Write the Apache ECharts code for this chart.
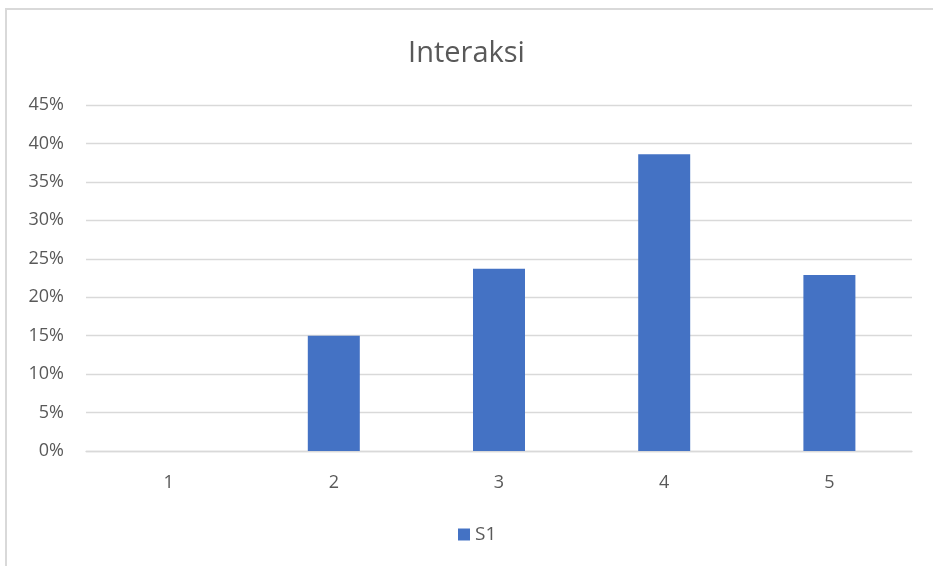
<!DOCTYPE html>
<html>
<head>
<meta charset="utf-8">
<script src="https://cdn.jsdelivr.net/npm/echarts@6/dist/echarts.min.js"></script>
<style>
  html, body { margin: 0; padding: 0; background: #ffffff; }
  #chart { position: absolute; left: 0; top: 0; width: 933px; height: 566px; }
  #frame {
    position: absolute; left: 5px; top: 8px; width: 1000px; height: 700px;
    border-left: 2px solid #d9d9d9; border-top: 2px solid #d9d9d9;
    pointer-events: none;
  }
</style>
</head>
<body>
<div id="chart"></div>
<div id="frame"></div>
<script>
// Interaction score categories and share of responses (percent)
const categories = ['1', '2', '3', '4', '5'];
const seriesName = 'S1';
const shares = [0, 15.0, 23.7, 38.6, 22.9];
const titleText = 'Interaksi';

const textColor = '#595959';
const gridColor = '#d9d9d9';
const barColor = '#4472C4';
const fontFamily = '"Open Sans", "Noto Sans", sans-serif';

const chart = echarts.init(document.getElementById('chart'), null, { renderer: 'canvas' });

chart.setOption({
  animation: false,
  backgroundColor: '#ffffff',
  title: {
    text: titleText,
    left: 'center',
    top: 34,
    textStyle: { color: textColor, fontSize: 29, fontWeight: 'normal', fontFamily: fontFamily }
  },
  legend: {
    data: [seriesName],
    top: 520,
    left: 453,
    icon: 'rect',
    itemWidth: 12,
    itemHeight: 12,
    itemGap: 10,
    textStyle: { color: textColor, fontSize: 19, fontFamily: fontFamily }
  },
  grid: { left: 86, right: 21, top: 105, bottom: 115, containLabel: false },
  xAxis: {
    type: 'category',
    data: categories,
    axisLine: { show: true, lineStyle: { color: gridColor, width: 1.3 } },
    axisTick: { show: false },
    axisLabel: { color: textColor, fontSize: 18, fontFamily: fontFamily, margin: 23 }
  },
  yAxis: {
    type: 'value',
    min: 0,
    max: 45,
    interval: 5,
    axisLine: { show: false },
    axisTick: { show: false },
    splitLine: { show: true, lineStyle: { color: gridColor, width: 1.3 } },
    axisLabel: {
      color: textColor, fontSize: 18, fontFamily: fontFamily, margin: 22,
      formatter: function (v) { return v + '%'; }
    }
  },
  series: [{
    name: seriesName,
    type: 'bar',
    data: shares,
    barWidth: 52,
    itemStyle: { color: barColor }
  }]
});
</script>
</body>
</html>
